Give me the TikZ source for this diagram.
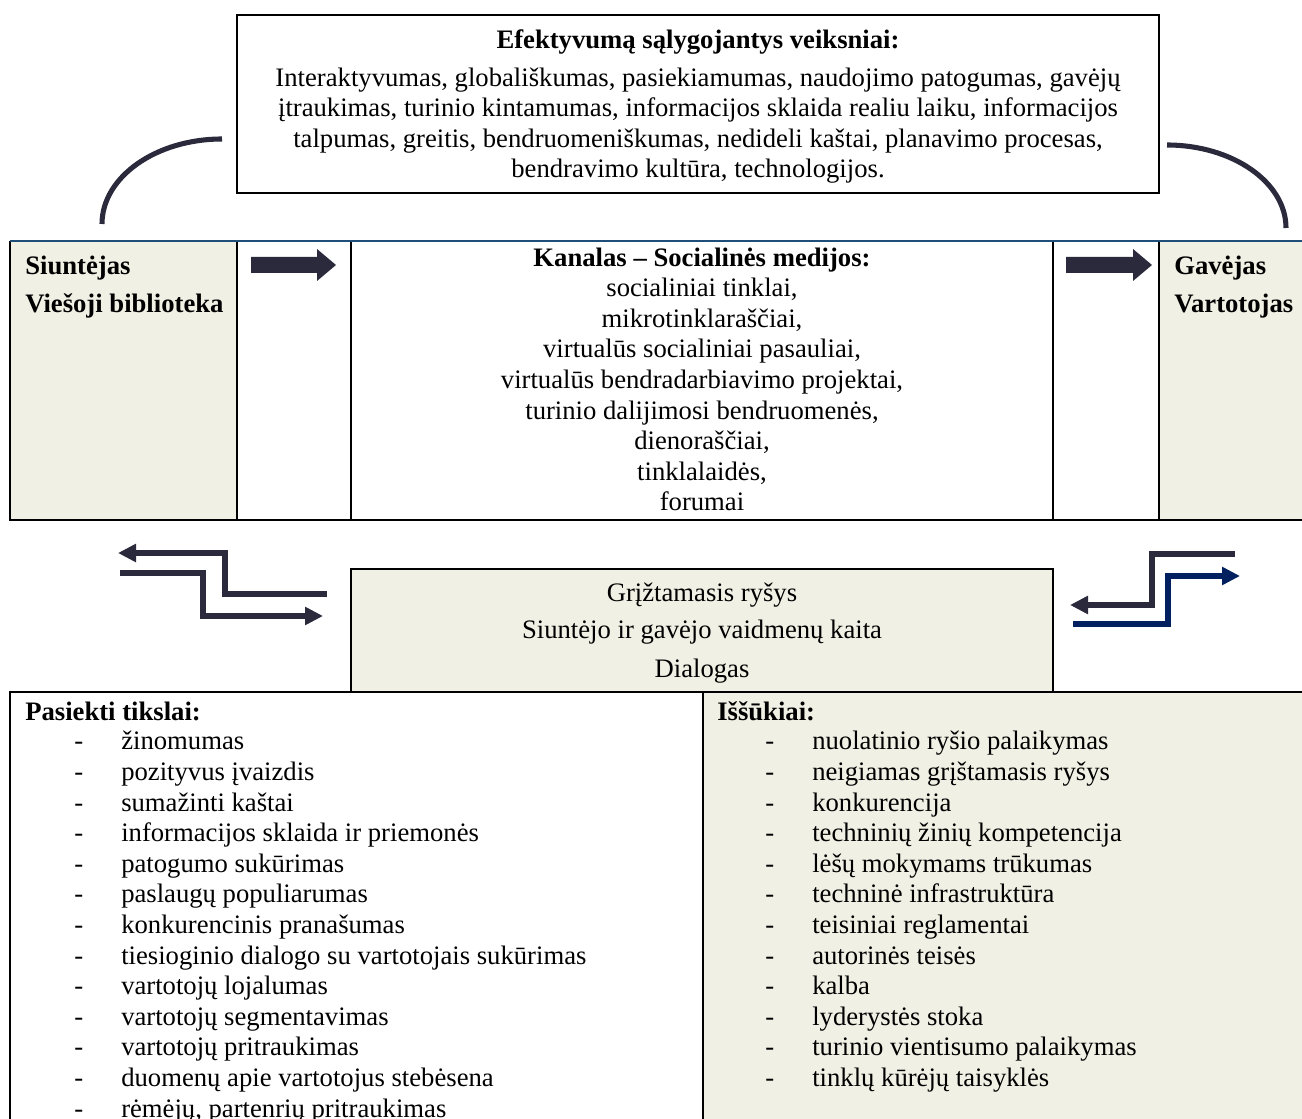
\documentclass[tikz,border=0pt]{standalone}
\usepackage{fontspec}
\setmainfont{Liberation Serif}
\usetikzlibrary{arrows.meta}
\definecolor{beige}{HTML}{F0F0E4}
\definecolor{ink}{HTML}{2B2A3D}
\definecolor{navy}{HTML}{002060}
\definecolor{rulebl}{HTML}{1F4E79}
\newcommand{\bodysize}{\fontsize{20}{24}\selectfont}
\tikzset{
  txt/.style={inner sep=0pt, anchor=mid, yshift=-3.6pt},
  txtl/.style={inner sep=0pt, anchor=mid west, yshift=-3.6pt},
  bold/.style={font=\bodysize\bfseries},
  thin/.style={draw=black, line width=1pt},
  arc line/.style={draw=ink, line width=3.8pt},
  flow/.style={line width=4.5pt, line join=miter,
    -{Triangle[length=13.5pt, width=13pt]}},
}
\begin{document}
\begin{tikzpicture}[x=0.75pt, y=-0.75pt, font=\bodysize]
\useasboundingbox (0,0) rectangle (1302,1119);

% ---- factors box
\node[thin, minimum width=922*0.75pt, minimum height=178*0.75pt, inner sep=0pt] (factors) at (698,104) {};
\node[txt, bold] (ftitle) at (698,41) {Efektyvumą sąlygojantys veiksniai:};
\node[txt] (f1) at (698,79) {Interaktyvumas, globališkumas, pasiekiamumas, naudojimo patogumas, gavėjų};
\node[txt] (f2) at (698,109) {įtraukimas, turinio kintamumas, informacijos sklaida realiu laiku, informacijos};
\node[txt] (f3) at (698,140) {talpumas, greitis, bendruomeniškumas, nedideli kaštai, planavimo procesas,};
\node[txt] (f4) at (698,170) {bendravimo kultūra, technologijos.};

% ---- arcs joining the row to the factors box
\coordinate (la) at (102,224);
\coordinate (lb) at (222,139);
\coordinate (ra) at (1167,145);
\coordinate (rb) at (1286,228);
\draw[arc line] (la) .. controls (102,177) and (156,139) .. (lb);
\draw[arc line] (ra) .. controls (1232,145) and (1286,182) .. (rb);

% ---- communication row
\fill[beige] (10,241) rectangle (237,520);
\fill[beige] (1159,241) rectangle (1302,520);
\node[inner sep=0pt, minimum width=227*0.75pt, minimum height=279*0.75pt] (sender) at (123.5,380.5) {};
\node[inner sep=0pt, minimum width=702*0.75pt, minimum height=279*0.75pt] (channel) at (702,380.5) {};
\node[inner sep=0pt, minimum width=143*0.75pt, minimum height=279*0.75pt] (receiver) at (1230.5,380.5) {};
\draw[black, line width=2.2pt] (10,241) -- (10,520) -- (1302,520);
\foreach \xx in {237,351,1053,1159}
  \draw[black, line width=2.2pt] (\xx,241) -- (\xx,520);
\draw[rulebl, line width=2.2pt] (10,241) -- (1302,241);

\node[txtl, bold] (s1) at (25,267) {Siuntėjas};
\node[txtl, bold] (s2) at (25,305) {Viešoji biblioteka};
\node[txtl, bold] (r1) at (1174,267) {Gavėjas};
\node[txtl, bold] (r2) at (1174,305) {Vartotojas};

\node[txt, bold] (ctitle) at (702,259) {Kanalas – Socialinės medijos:};
\foreach \t [count=\i] in {{socialiniai tinklai,}, {mikrotinklaraščiai,},
  {virtualūs socialiniai pasauliai,}, {virtualūs bendradarbiavimo projektai,},
  {turinio dalijimosi bendruomenės,}, {dienoraščiai,}, {tinklalaidės,}, forumai}
  \node[txt] (c\i) at (702,{289+30.57*(\i-1)}) {\t};

% ---- block arrows between the columns
\fill[ink] (251,257) -- (317,257) -- (317,249) -- (336,265) -- (317,281) -- (317,273) -- (251,273) -- cycle;
\fill[ink] (1066,257) -- (1133,257) -- (1133,249) -- (1152,265) -- (1133,281) -- (1133,273) -- (1066,273) -- cycle;

% ---- feedback box
\node[draw=black, line width=1.3pt, fill=beige, inner sep=0pt,
  minimum width=702*0.75pt, minimum height=123*0.75pt] (feedback) at (702,630.5) {};
\node[txt] (fb1) at (702,594) {Grįžtamasis ryšys};
\node[txt] (fb2) at (702,631) {Siuntėjo ir gavėjo vaidmenų kaita};
\node[txt] (fb3) at (702,670) {Dialogas};

% ---- feedback flows
\coordinate (l1a) at (327,594);
\coordinate (l1b) at (118,553);
\coordinate (l2a) at (120,573);
\coordinate (l2b) at (323,616);
\coordinate (r1a) at (1235,554);
\coordinate (r1b) at (1070,605);
\coordinate (r2a) at (1073,624);
\coordinate (r2b) at (1240,576);
\draw[flow, ink] (l1a) -- (225,594) -- (225,553) -- (l1b);
\draw[flow, ink] (l2a) -- (203,573) -- (203,616) -- (l2b);
\draw[flow, ink] (r1a) -- (1152,554) -- (1152,605) -- (r1b);
\draw[flow, navy] (r2a) -- (1168,624) -- (1168,576) -- (r2b);

% ---- goals and challenges
\fill[beige] (703,692) rectangle (1302,1125);
\node[inner sep=0pt, minimum width=693*0.75pt, minimum height=433*0.75pt] (goals) at (356.5,908.5) {};
\node[inner sep=0pt, minimum width=599*0.75pt, minimum height=433*0.75pt] (challenges) at (1002.5,908.5) {};
\draw[black, line width=2.2pt] (10,1125) -- (10,692) -- (1302,692);
\draw[black, line width=2.2pt] (703,692) -- (703,1125);

\node[txtl, bold] (gtitle) at (25,713) {Pasiekti tikslai:};
\foreach \t [count=\i] in {žinomumas, pozityvus įvaizdis, sumažinti kaštai,
  informacijos sklaida ir priemonės, patogumo sukūrimas, paslaugų populiarumas,
  konkurencinis pranašumas, tiesioginio dialogo su vartotojais sukūrimas,
  vartotojų lojalumas, vartotojų segmentavimas, vartotojų pritraukimas,
  duomenų apie vartotojus stebėsena, {rėmėjų, partenrių pritraukimas}} {
  \node[txtl] (gd\i) at (74,{742+30.6*(\i-1)}) {-};
  \node[txtl] (g\i) at (121,{742+30.6*(\i-1)}) {\t};
}

\node[txtl, bold] (htitle) at (717,713) {Iššūkiai:};
\foreach \t [count=\i] in {nuolatinio ryšio palaikymas, neigiamas grįštamasis ryšys,
  konkurencija, techninių žinių kompetencija, lėšų mokymams trūkumas,
  techninė infrastruktūra, teisiniai reglamentai, autorinės teisės, kalba,
  lyderystės stoka, turinio vientisumo palaikymas, tinklų kūrėjų taisyklės} {
  \node[txtl] (hd\i) at (765,{742+30.6*(\i-1)}) {-};
  \node[txtl] (h\i) at (812,{742+30.6*(\i-1)}) {\t};
}
\end{tikzpicture}
\end{document}
